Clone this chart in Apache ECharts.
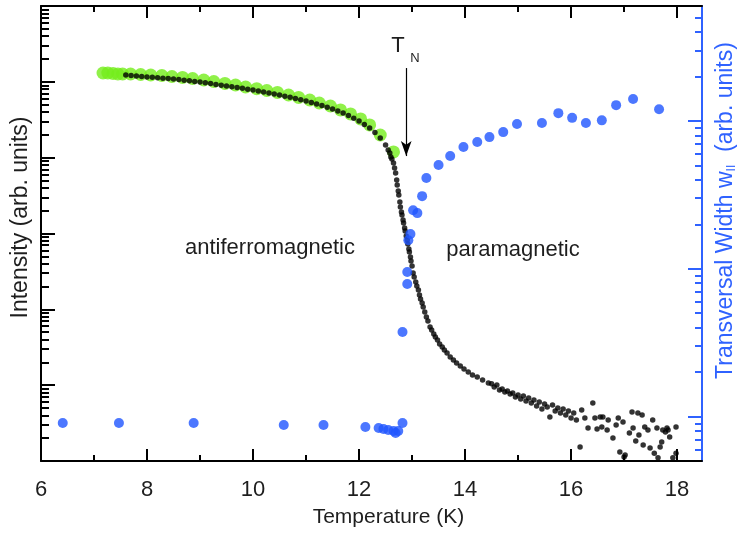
<!DOCTYPE html>
<html><head><meta charset="utf-8">
<script src="https://cdn.jsdelivr.net/npm/echarts@6/dist/echarts.min.js"></script>
<style>html,body{margin:0;padding:0;background:#fff}#c{width:738px;height:535px}</style>
</head><body><div id="c"></div>
<script>
// ---- tick values ----
const xMajorTicks = [6, 8, 10, 12, 14, 16, 18];
const xMinorTicks = [7, 9, 11, 13, 15, 17];
const intensityMajorTicks = [10, 100, 1000, 10000, 100000];
const intensityDecades = [1, 10, 100, 1000, 10000, 100000];
const widthMajorTicks = [1, 10, 100];
const widthMinorTicks = [0.6, 0.7, 0.8, 0.9, 2, 3, 4, 5, 6, 7, 8, 9, 20, 30, 40, 50, 60, 70, 80, 90, 200, 300, 400, 500];
const minorFactors = [2, 3, 4, 5, 6, 7, 8, 9];

// ---- black: intensity (left axis) ----
const blackTemp = [7.6,7.7,7.8,7.9,8.0,8.1,8.2,8.3,8.4,8.5,8.6,8.7,8.8,8.9,9.0,9.1,9.2,9.3,9.4,9.5,9.6,9.7,9.8,9.9,10.0,10.1,10.2,10.3,10.4,10.5,10.6,10.7,10.8,10.9,11.0,11.1,11.2,11.3,11.4,11.5,11.6,11.7,11.8,11.9,12.0,12.1,12.2,12.3,12.4,12.5,
12.55,12.58,12.6,12.62,12.65,12.67,12.69,12.71,12.72,12.74,12.75,12.77,12.78,12.8,12.81,12.83,12.84,12.86,12.87,12.89,12.91,12.92,12.94,12.95,12.97,12.98,13.0,13.02,13.04,13.07,13.09,13.12,13.14,13.16,13.19,13.21,13.24,13.27,13.3,13.34,13.37,13.41,13.44,13.48,13.52,13.57,13.61,13.66,13.72,13.78,13.84,13.91,13.98,14.06,14.14,14.23,14.33,14.44,
14.5,14.55,14.6,14.65,14.7,14.75,14.8,14.85,14.9,14.95,15.0,15.05,15.1,15.15,15.2,15.25,15.3,15.35,15.4,15.45,15.5,15.55,15.6,15.65,15.7,15.75,15.8,15.85,15.9,15.95,16.0,16.05,16.1,16.17,16.2,16.26,16.32,16.41,16.45,16.49,16.55,16.58,16.6,16.68,16.7,16.79,16.85,16.89,16.92,16.98,17.0,17.02,17.1,17.15,17.17,17.22,17.26,17.28,17.34,17.36,17.39,17.45,17.49,17.54,17.57,17.62,17.64,17.68,17.71,17.73,17.78,17.81,17.83,17.86,17.92,17.98,17.98];
const blackIntensity = [123100,121200,119400,117600,115900,114500,113100,111700,110300,109000,107000,105100,103200,101400,99500,97200,94800,92500,90300,88200,86000,84000,82000,80000,78100,75700,73500,71300,69200,67100,64700,62400,60200,58000,55900,53400,51000,48700,46100,43900,41300,38900,36000,33200,30500,27400,24600,21500,18200,14700,
12620,11530,10210,9610,8510,7310,6280,5080,4360,3640,3220,2600,2240,1920,1750,1510,1380,1180,1080,927,821,727,625,571,490,434,373,302,267,229,203,180,155,137,121,107,92.2,79.3,70.2,58.5,53.4,47.3,43.2,39.4,34.9,31.9,29.1,26.6,23.5,21.5,19.6,17.9,16.3,14.9,13.6,12.8,11.7,10.7,
10.4,9.46,10.05,8.64,8.90,8.13,8.38,7.65,7.88,6.98,7.42,6.57,7.20,6.18,6.77,5.82,6.38,5.31,6.00,4.85,5.65,5.15,3.80,5.48,4.56,5.00,4.30,4.85,4.04,4.56,3.69,4.30,3.47,1.53,4.71,3.69,2.72,5.82,3.69,2.64,3.80,2.81,3.80,2.56,3.47,2.01,2.98,3.69,1.31,3.27,1.13,1.20,2.34,4.43,2.72,1.84,4.30,2.20,4.04,1.63,2.81,2.56,1.48,3.47,1.27,2.72,1.10,1.53,1.78,2.56,2.41,2.72,2.56,2.07,1.10,2.81,1.27];

// ---- green: intensity (left axis) ----
const greenTemp = [7.17,7.26,7.36,7.45,7.54,7.69,7.88,8.07,8.28,8.47,8.67,8.86,9.07,9.26,9.47,9.67,9.86,10.07,10.26,10.46,10.67,10.86,11.07,11.25,11.46,11.65,11.84,12.03,12.2,12.4,12.65];
const greenIntensity = [130800,130800,128900,126900,126900,126900,125000,123100,121200,117600,114200,110700,105800,101000,95200,90900,85500,81300,76900,72400,67100,62200,57600,52600,48000,42600,37700,32400,27000,19900,11900];

// ---- blue: transversal width (right axis) ----
const widthTemp = [6.41,7.47,8.88,10.58,11.33,12.12,12.37,12.46,12.55,12.65,12.69,12.74,12.82,12.82,12.91,12.91,12.93,12.97,13.02,13.10,13.19,13.27,13.50,13.72,13.97,14.23,14.46,14.72,14.98,15.45,15.76,16.02,16.28,16.58,16.85,17.17,17.66];
const widthValues = [0.904,0.904,0.904,0.876,0.876,0.849,0.836,0.823,0.810,0.798,0.773,0.798,0.904,3.73,9.50,7.88,15.6,17.2,24.9,23.8,31.0,41.1,50.3,57.9,66.6,72.0,77.8,84.1,95.3,96.8,113,105,96.8,101,128,141,120];

// ---- T_N arrow (temperature, intensity range) ----
const tnTemp = 12.89;
const tnArrowIntensity = [152000, 10500];

const FONT = "'Liberation Sans', Arial, sans-serif";
const BLUE = '#1f55ff';
const BLUE_AXIS = '#2f62ff';
const TXT = '#1e1e1e';

const zip = (a, b) => a.map((v, i) => [v, b[i]]);
const intensityMinor = [];
intensityDecades.forEach(d => minorFactors.forEach(f => intensityMinor.push(d * f)));

function xAx(pos, ticks, len, showLine, extra) {
  return Object.assign({
    type: 'value', min: 6, max: 18.47, position: pos,
    axisLine: { show: showLine, onZero: false, lineStyle: { color: '#000', width: 2 } },
    axisTick: { show: true, inside: true, length: len, customValues: ticks, lineStyle: { color: '#000', width: 2 } },
    axisLabel: { show: false },
    splitLine: { show: false }
  }, extra || {});
}
function yAx(type, min, max, pos, ticks, len, showLine, color, extra) {
  return Object.assign({
    type: type, min: min, max: max, position: pos,
    axisLine: { show: showLine, onZero: false, lineStyle: { color: color, width: 2 } },
    axisTick: { show: true, inside: true, length: len, customValues: ticks, lineStyle: { color: color, width: 2 } },
    axisLabel: { show: false },
    splitLine: { show: false }
  }, extra || {});
}

const option = {
  animation: false,
  backgroundColor: '#fff',
  grid: { left: 41, top: 6, right: 36, bottom: 74, containLabel: false, outerBoundsMode: 'none' },
  xAxis: [
    xAx('bottom', xMajorTicks, 12, true, {
      axisLabel: { show: true, customValues: xMajorTicks, fontSize: 22, fontFamily: FONT, color: TXT, margin: 18 },
      name: 'Temperature (K)', nameLocation: 'middle', nameGap: 46,
      nameTextStyle: { fontSize: 21, fontFamily: FONT, color: TXT, padding: [0, 0, 0, 34] }
    }),
    xAx('bottom', xMinorTicks, 6, false),
    xAx('top', xMajorTicks, 12, true),
    xAx('top', xMinorTicks, 6, false)
  ],
  yAxis: [
    yAx('log', 1, 1000000, 'left', intensityMajorTicks, 14, true, '#000', {
      logBase: 10,
      name: 'Intensity (arb. units)', nameLocation: 'middle', nameGap: 9,
      nameTextStyle: { fontSize: 23, fontFamily: FONT, color: TXT, padding: [0, 0, 0, 32] }
    }),
    yAx('log', 1, 1000000, 'left', intensityMinor, 8, false, '#000', { logBase: 10 }),
    yAx('log', 0.5, 600, 'right', widthMajorTicks, 14, true, BLUE_AXIS, {
      logBase: 10,
      name: '{a|Transversal Width w}{s|II}{a|  (arb. units)}', nameLocation: 'middle', nameGap: 12,
      nameTextStyle: {
        fontSize: 23, fontFamily: FONT, color: BLUE_AXIS, padding: [0, 0, 0, 46],
        rich: {
          a: { fontSize: 23, fontFamily: FONT, color: BLUE_AXIS, lineHeight: 24 },
          s: { fontSize: 12, fontFamily: FONT, color: BLUE_AXIS, lineHeight: 12, verticalAlign: 'bottom' }
        }
      }
    }),
    yAx('log', 0.5, 600, 'right', widthMinorTicks, 7, false, BLUE_AXIS, { logBase: 10 })
  ],
  series: [
    {
      type: 'scatter', name: 'fit', xAxisIndex: 0, yAxisIndex: 0, z: 2,
      data: zip(greenTemp, greenIntensity), symbolSize: 13,
      itemStyle: { color: '#74ee1c' }
    },
    {
      type: 'scatter', name: 'intensity', xAxisIndex: 0, yAxisIndex: 0, z: 3,
      data: zip(blackTemp, blackIntensity), symbolSize: 5.5,
      itemStyle: { color: '#000' },
      markLine: {
        silent: true, symbol: ['none', 'arrow'], symbolSize: [8, 15], animation: false,
        label: { show: false },
        lineStyle: { color: '#000', width: 1.2, type: 'solid' },
        data: [[{ coord: [tnTemp, tnArrowIntensity[0]] }, { coord: [tnTemp, tnArrowIntensity[1]] }]]
      }
    },
    {
      type: 'scatter', name: 'width', xAxisIndex: 0, yAxisIndex: 2, z: 4,
      data: zip(widthTemp, widthValues), symbolSize: 10,
      itemStyle: { color: BLUE }
    }
  ],
  graphic: [
    { type: 'text', x: 270, y: 248, style: { text: 'antiferromagnetic', fontSize: 22, fontFamily: FONT, fill: TXT, align: 'center', verticalAlign: 'middle' } },
    { type: 'text', x: 513, y: 250, style: { text: 'paramagnetic', fontSize: 22, fontFamily: FONT, fill: TXT, align: 'center', verticalAlign: 'middle' } },
    { type: 'text', x: 398, y: 46, style: { text: 'T', fontSize: 22, fontFamily: FONT, fill: TXT, align: 'center', verticalAlign: 'middle' } },
    { type: 'text', x: 415, y: 58, style: { text: 'N', fontSize: 13, fontFamily: FONT, fill: TXT, align: 'center', verticalAlign: 'middle' } }
  ]
};
const chart = echarts.init(document.getElementById('c'));
chart.setOption(option);
</script>
</body></html>
